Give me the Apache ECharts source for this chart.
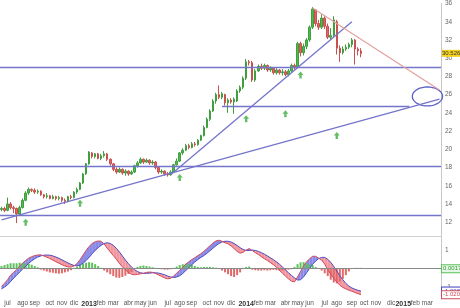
<!DOCTYPE html>
<html><head><meta charset="utf-8">
<script src="https://cdn.jsdelivr.net/npm/echarts@6/dist/echarts.min.js"></script>
<style>html,body{margin:0;padding:0;background:#fff}#c{width:460px;height:308px}</style>
</head><body><div id="c"></div>
<script>
// ---- data ----
const firstWeek = '2012-06-11';   // Monday of first weekly bar
const weekCount = 146;            // weeks shown on the axis (data + empty future)
const monthNames = ['ene','feb','mar','abr','may','jun','jul','ago','sep','oct','nov','dic'];

// weekly candles [open, close, low, high]
const ohlc = [
[13.4,13.5,13.2,13.7],[13.5,13.3,13.1,13.7],[13.3,14.0,13.2,14.7],[14.0,13.6,13.4,14.2],[13.6,13.5,13.0,13.8],
[13.5,12.9,11.9,13.6],[12.9,13.6,12.8,13.8],[13.6,14.4,13.5,14.6],[14.4,15.2,14.3,15.4],[15.2,15.6,15.0,15.8],
[15.6,15.5,15.3,15.7],[15.5,15.3,15.1,15.7],[15.3,15.4,15.1,15.6],[15.4,15.0,14.9,15.5],[15.0,14.8,14.6,15.1],
[14.8,14.9,14.6,15.2],[14.9,14.6,14.5,15.0],[14.6,14.8,14.5,15.0],[14.8,14.6,14.4,14.9],[14.6,14.7,14.4,14.9],
[14.7,14.4,14.2,14.8],[14.4,14.3,14.0,14.6],[14.3,14.8,14.2,14.9],[14.8,14.7,14.5,15.0],[14.7,15.3,14.6,15.4],
[15.3,15.6,15.1,15.8],[15.6,16.3,15.5,16.4],[16.3,17.3,16.2,17.4],[17.3,18.4,17.2,18.5],[18.4,19.7,18.3,19.8],
[19.6,19.2,19.0,19.7],[19.2,19.5,19.0,19.6],[19.5,19.0,18.9,19.6],[19.0,19.3,18.8,19.5],[19.3,19.5,19.1,19.8],
[19.5,18.9,18.7,19.6],[18.9,18.4,18.2,19.0],[18.4,17.8,17.6,18.5],[17.8,17.5,17.3,18.0],[17.5,17.8,17.4,18.0],
[17.8,17.4,17.2,17.9],[17.4,17.6,17.1,17.8],[17.6,17.3,17.1,17.7],[17.3,17.5,17.2,17.7],[17.5,18.2,17.4,18.3],
[18.2,18.5,18.0,18.7],[18.5,18.9,18.4,19.1],[18.9,18.6,18.4,19.0],[18.6,18.8,18.5,19.0],[18.8,18.5,18.3,18.9],
[18.5,18.6,18.3,18.8],[18.6,18.0,17.8,18.7],[18.0,17.5,17.3,18.1],[17.5,17.6,17.3,17.8],[17.6,17.3,17.1,17.7],
[17.3,17.2,17.0,17.5],[17.2,17.5,17.1,17.7],[17.5,18.3,17.4,18.4],[18.3,18.7,18.2,19.0],[18.7,19.6,18.6,19.7],
[19.6,19.9,19.4,20.1],[19.9,20.4,19.8,20.6],[20.4,20.2,20.0,20.6],[20.2,20.6,20.1,20.8],[20.6,20.5,20.3,20.8],
[20.5,21.0,20.4,21.1],[21.0,21.5,20.9,21.6],[21.5,22.4,21.4,22.6],[22.4,23.3,22.3,23.5],[23.3,24.2,23.1,24.4],
[24.2,25.3,24.1,25.5],[25.3,26.0,25.0,26.2],[26.0,25.7,25.5,27.0],[25.7,26.1,25.5,26.3],[26.0,25.1,24.8,26.1],
[25.1,25.4,24.0,25.6],[25.4,25.2,25.0,25.6],[25.2,25.5,23.9,25.7],[25.3,26.4,25.2,26.6],[26.4,26.8,26.2,27.0],
[26.8,27.8,26.6,28.0],[27.8,29.6,27.6,29.9],[29.6,29.5,29.2,29.8],[29.5,27.6,27.4,29.7],[27.6,28.6,27.4,28.8],
[28.6,29.1,28.5,29.3],[29.1,28.9,28.7,29.4],[28.9,29.2,28.7,29.4],[29.2,28.7,28.5,29.3],[28.7,28.9,28.5,29.1],
[28.9,28.4,28.2,29.0],[28.4,28.7,28.2,28.9],[28.7,28.4,28.2,28.8],[28.4,28.5,28.1,28.8],[28.5,28.2,28.0,28.7],
[28.2,28.6,28.0,28.8],[28.6,29.2,28.4,29.4],[29.2,29.0,28.7,29.4],[29.0,31.6,28.9,31.8],[31.6,30.6,30.2,31.8],
[30.6,31.3,30.3,31.6],[31.3,32.0,31.0,32.2],[32.0,33.4,31.8,33.6],[33.4,35.4,33.2,35.6],[35.3,33.8,33.5,35.4],
[33.8,33.4,33.1,34.2],[33.4,34.4,33.2,34.8],[34.4,33.5,33.2,34.6],[33.5,32.3,32.1,33.8],[32.3,32.5,32.0,33.3],
[32.5,34.2,32.3,34.6],[34.0,31.1,30.4,34.2],[31.1,30.6,29.6,31.4],[30.6,31.0,30.4,31.3],[31.0,31.2,30.8,31.5],
[31.2,31.5,31.0,31.7],[31.5,32.0,31.2,32.2],[32.0,31.0,29.3,32.1],[31.0,30.8,30.3,31.2],[30.8,30.5,30.1,31.1]
];
const lastPrice = 30.526;

const macdLine = [
-0.95,-0.8,-0.6,-0.35,-0.2,-0.05,0.15,0.3,0.45,0.58,
0.66,0.72,0.75,0.76,0.7,0.63,0.56,0.47,0.38,0.3,
0.22,0.15,0.1,0.09,0.15,0.28,0.5,0.75,1.0,1.22,
1.38,1.47,1.52,1.5,1.35,1.12,0.92,0.72,0.52,0.3,
0.1,-0.05,-0.2,-0.3,-0.33,-0.31,-0.28,-0.25,-0.2,-0.18,
-0.2,-0.26,-0.34,-0.42,-0.5,-0.55,-0.52,-0.4,-0.24,-0.08,
0.08,0.25,0.38,0.5,0.6,0.72,0.82,0.95,1.1,1.25,
1.4,1.52,1.56,1.5,1.42,1.36,1.25,1.1,0.95,0.85,
0.9,1.02,1.1,1.0,0.88,0.78,0.66,0.55,0.45,0.34,
0.22,0.08,-0.08,-0.25,-0.4,-0.55,-0.68,-0.72,-0.45,-0.15,
0.15,0.38,0.55,0.68,0.68,0.58,0.47,0.25,-0.05,-0.3,
-0.52,-0.72,-0.9,-1.02,-1.1,-1.17,-1.23,-1.3,-1.36,-1.42
];
const signalLine = [
-1.1,-1.0,-0.88,-0.7,-0.52,-0.35,-0.18,-0.02,0.14,0.3,
0.43,0.55,0.64,0.7,0.74,0.75,0.74,0.7,0.64,0.57,
0.49,0.4,0.32,0.24,0.18,0.15,0.2,0.3,0.45,0.62,
0.82,1.0,1.15,1.28,1.38,1.42,1.38,1.28,1.12,0.92,
0.7,0.48,0.28,0.1,-0.05,-0.15,-0.22,-0.25,-0.25,-0.24,
-0.22,-0.22,-0.24,-0.28,-0.33,-0.4,-0.45,-0.48,-0.45,-0.38,
-0.26,-0.1,0.06,0.22,0.37,0.5,0.62,0.72,0.84,0.98,
1.12,1.26,1.38,1.46,1.5,1.5,1.46,1.38,1.27,1.15,
1.05,1.0,1.0,1.02,1.0,0.95,0.88,0.8,0.7,0.6,
0.5,0.38,0.25,0.1,-0.06,-0.22,-0.36,-0.5,-0.62,-0.6,
-0.45,-0.22,0.02,0.25,0.42,0.55,0.62,0.62,0.52,0.35,
0.12,-0.12,-0.38,-0.6,-0.8,-0.95,-1.05,-1.12,-1.18,-1.22
];
const histogram = [
0.15,0.2,0.25,0.3,0.3,0.3,0.33,0.3,0.3,0.28,
0.22,0.15,0.08,-0.05,-0.1,-0.15,-0.2,-0.22,-0.25,-0.27,
-0.25,-0.2,-0.15,-0.08,0.05,0.1,0.2,0.28,0.33,0.36,
0.33,0.25,0.15,0.05,-0.1,-0.2,-0.3,-0.4,-0.48,-0.5,
-0.45,-0.38,-0.28,-0.18,0.05,0.1,0.15,0.18,0.15,0.12,
0.08,0.05,0.03,-0.03,-0.05,-0.05,-0.03,0.05,0.12,0.2,
0.25,0.27,0.25,0.22,0.15,0.1,0.08,0.1,0.1,0.1,
0.08,0.06,0.04,-0.1,-0.2,-0.3,-0.4,-0.45,-0.35,-0.2,
0.05,0.1,0.12,-0.05,-0.08,-0.1,-0.1,-0.08,-0.1,-0.08,
-0.06,-0.08,-0.1,-0.1,-0.08,-0.05,-0.03,0.1,0.25,0.35,
0.36,0.3,0.25,0.2,0.1,0.03,-0.1,-0.25,-0.4,-0.6,
-0.75,-0.8,-0.7,-0.55,-0.35,-0.15,0.04,0.05,0.05,0.05
];
const macdLabels = {hist:'0.0017', macd:'-1.0083', signal:'-1.0204'};

// drawn annotations (week index, price)
const horizontalLevels = [29.02, 18.15, 12.8];
const partialLevel = {from:73, to:135, value:24.73};
const supportLong = [[0,12.25],[145,25.5]];
const supportSteep = [[56,17.2],[116,34.0]];
const resistance = [[103,35.5],[145,26.5]];
const ellipseMark = {center:[141,25.8], halfWeeks:5, halfPrice:1.04};
const upArrows = [[8,12.0],[26,14.08],[59,16.9],[81,23.35],[94,23.9],[99,28.15],[111,21.5]];

// ---- build ----
const categories = [];
(function(){
  const d0 = new Date(firstWeek + 'T00:00:00Z');
  for (let i = 0; i < weekCount; i++) {
    const d = new Date(d0.getTime() + i*7*86400000);
    categories.push(d.toISOString().slice(0,10));
  }
})();
function monthStartWeek(idx){
  const d = new Date(categories[idx] + 'T00:00:00Z');
  const e = new Date(d.getTime() + 6*86400000);
  return d.getUTCDate() === 1 || e.getUTCMonth() !== d.getUTCMonth();
}
function monthLabel(val){
  const d = new Date(val + 'T00:00:00Z');
  const e = new Date(d.getTime() + 6*86400000);
  const m = (d.getUTCDate() === 1) ? d : e;
  return m.getUTCMonth() === 0 ? '{y|' + m.getUTCFullYear() + '}' : monthNames[m.getUTCMonth()];
}

const blueLine = '#7474cc';
const hidden = {color:'rgba(0,0,0,0)', width:0};
const chart = echarts.init(document.getElementById('c'), null, {renderer:'canvas'});
const font = 'Liberation Sans, Arial, sans-serif';

const ribbonData = macdLine.slice(0, -1).map((v, i) => [i, v, signalLine[i]]);

chart.setOption({
  animation: false,
  backgroundColor: '#fff',
  grid: [
    {left:0, right:19, top:2, height:238.4},
    {left:0, right:19, top:236.7, height:59.5}
  ],
  xAxis: [
    {type:'category', gridIndex:0, data:categories, axisLine:{show:false}, axisTick:{show:false}, axisLabel:{show:false}, splitLine:{show:false}},
    {type:'category', gridIndex:1, data:categories, axisLine:{show:false}, axisTick:{show:false}, splitLine:{show:false},
      axisLabel:{interval:(i)=>monthStartWeek(i), formatter:monthLabel, fontSize:6.5, color:'#555', fontFamily:font, margin:4,
        rich:{y:{fontSize:7, fontWeight:'bold', color:'#333', fontFamily:font}}}},
    {type:'category', gridIndex:1, data:categories, position:'top', axisLine:{show:true, lineStyle:{color:'#d0d0d0'}}, axisTick:{show:false}, axisLabel:{show:false}}
  ],
  yAxis: [
    {type:'value', gridIndex:0, position:'right', min:10, max:36, interval:2, splitLine:{show:false},
      axisLine:{show:true, lineStyle:{color:'#c8c8c8'}}, axisTick:{show:false},
      axisLabel:{fontSize:6.5, color:'#666', fontFamily:font, margin:4, formatter:(v)=> v===10 ? '' : String(v)}},
    {type:'value', gridIndex:1, position:'right', min:-1.5, max:1.75, interval:0.25, splitLine:{show:false},
      axisLine:{show:true, lineStyle:{color:'#c8c8c8'}}, axisTick:{show:false},
      axisLabel:{fontSize:6.5, color:'#666', fontFamily:font, margin:4, formatter:(v)=> (v===1||v===-1) ? String(v) : ''}}
  ],
  series: [
    {
      type:'candlestick', xAxisIndex:0, yAxisIndex:0, data:ohlc, barWidth:2,
      itemStyle:{color:'#4cbb4c', color0:'#e06464', borderColor:'#3f9f3f', borderColor0:'#c85050', borderWidth:1},
      markLine:{
        silent:true, symbol:['none','none'],
        data:[
          ...horizontalLevels.map(v => ({yAxis:v})),
          [{coord:[partialLevel.from, partialLevel.value]},{coord:[partialLevel.to, partialLevel.value]}],
          [{coord:supportLong[0]},{coord:supportLong[1]}],
          [{coord:supportSteep[0]},{coord:supportSteep[1]}],
          [{coord:resistance[0], lineStyle:{color:'#e3a0a0', width:1.2}},{coord:resistance[1]}],
          {yAxis:lastPrice, lineStyle:hidden, label:{show:true, position:'end', formatter:String(lastPrice), fontSize:6, fontFamily:font, color:'#333', backgroundColor:'#f4d21f', padding:[1,0,0,0], distance:1}}
        ],
        lineStyle:{color:blueLine, width:1.3, type:'solid'},
        label:{show:false}
      }
    },
    {
      type:'custom', xAxisIndex:0, yAxisIndex:0, data:[ellipseMark.center], clip:false,
      renderItem:(params, api)=>{
        const c = api.coord([ellipseMark.center[0], ellipseMark.center[1]]);
        const e = api.coord([ellipseMark.center[0]-ellipseMark.halfWeeks, ellipseMark.center[1]+ellipseMark.halfPrice]);
        const rx = Math.abs(c[0]-e[0]), ry = Math.abs(c[1]-e[1]);
        const pts = [];
        for (let k = 0; k < 72; k++) { const a = k/72*Math.PI*2; pts.push([c[0]+rx*Math.cos(a), c[1]+ry*Math.sin(a)]); }
        return {type:'polygon', shape:{points:pts}, style:{fill:'none', stroke:'#6060cc', lineWidth:1.3}};
      }
    },
    {
      type:'scatter', xAxisIndex:0, yAxisIndex:0, data:upArrows,
      symbol:'path://M5,0 L10,5 L7,5 L7,10 L3,10 L3,5 L0,5 Z', symbolSize:[6,7],
      itemStyle:{color:'#3fae3f'}
    },
    {
      type:'custom', xAxisIndex:1, yAxisIndex:1, data:ribbonData,
      renderItem:(params, api)=>{
        const i = api.value(0);
        const m0 = macdLine[i], m1 = macdLine[i+1], s0 = signalLine[i], s1 = signalLine[i+1];
        const pm0 = api.coord([i, m0]), pm1 = api.coord([i+1, m1]);
        const ps0 = api.coord([i, s0]), ps1 = api.coord([i+1, s1]);
        const d0 = m0 - s0, d1 = m1 - s1;
        const blue = 'rgba(110,110,225,0.8)', red = 'rgba(240,125,135,0.8)';
        const children = [];
        if (d0*d1 >= 0) {
          children.push({type:'polygon', shape:{points:[pm0,pm1,ps1,ps0]}, style:{fill:(d0+d1)>=0?blue:red}});
        } else {
          const t = d0/(d0-d1);
          const pc = [pm0[0]+(pm1[0]-pm0[0])*t, pm0[1]+(pm1[1]-pm0[1])*t];
          children.push({type:'polygon', shape:{points:[pm0,pc,ps0]}, style:{fill:d0>=0?blue:red}});
          children.push({type:'polygon', shape:{points:[pc,pm1,ps1]}, style:{fill:d1>=0?blue:red}});
        }
        return {type:'group', children};
      }
    },
    {
      type:'bar', xAxisIndex:1, yAxisIndex:1, data:histogram, barWidth:2,
      itemStyle:{color:(p)=> p.value>=0 ? '#5cc25c' : '#e06a6a'},
      markLine:{silent:true, symbol:['none','none'],
        data:[{yAxis:0}],
        lineStyle:{color:'#8a8a8a', width:1, type:'solid'},
        label:{show:true, position:'end', formatter:macdLabels.hist, fontSize:6, fontFamily:font, color:'#3a9a3a', backgroundColor:'#e4f6e4', borderColor:'#5cc25c', borderWidth:1, padding:[1,1,0,1], distance:1}
      }
    },
    {
      type:'line', xAxisIndex:1, yAxisIndex:1, data:signalLine, symbol:'none', lineStyle:{color:'#4a4ac4', width:1},
      markLine:{silent:true, symbol:['none','none'], data:[{yAxis:signalLine[signalLine.length-1]}], lineStyle:hidden,
        label:{show:true, position:'end', formatter:macdLabels.macd, fontSize:6, fontFamily:font, color:'#4a4ac4', backgroundColor:'#fff', borderColor:'#4a4ac4', borderWidth:1, padding:[1,1,0,1], distance:1}}
    },
    {
      type:'line', xAxisIndex:1, yAxisIndex:1, data:macdLine, symbol:'none', lineStyle:{color:'#d04c5c', width:1},
      markLine:{silent:true, symbol:['none','none'], data:[{yAxis:macdLine[macdLine.length-1]}], lineStyle:hidden,
        label:{show:true, position:'end', formatter:macdLabels.signal, fontSize:6, fontFamily:font, color:'#d04c5c', backgroundColor:'#fff', borderColor:'#d04c5c', borderWidth:1, padding:[1,1,0,1], distance:1}}
    }
  ]
});
</script></body></html>
